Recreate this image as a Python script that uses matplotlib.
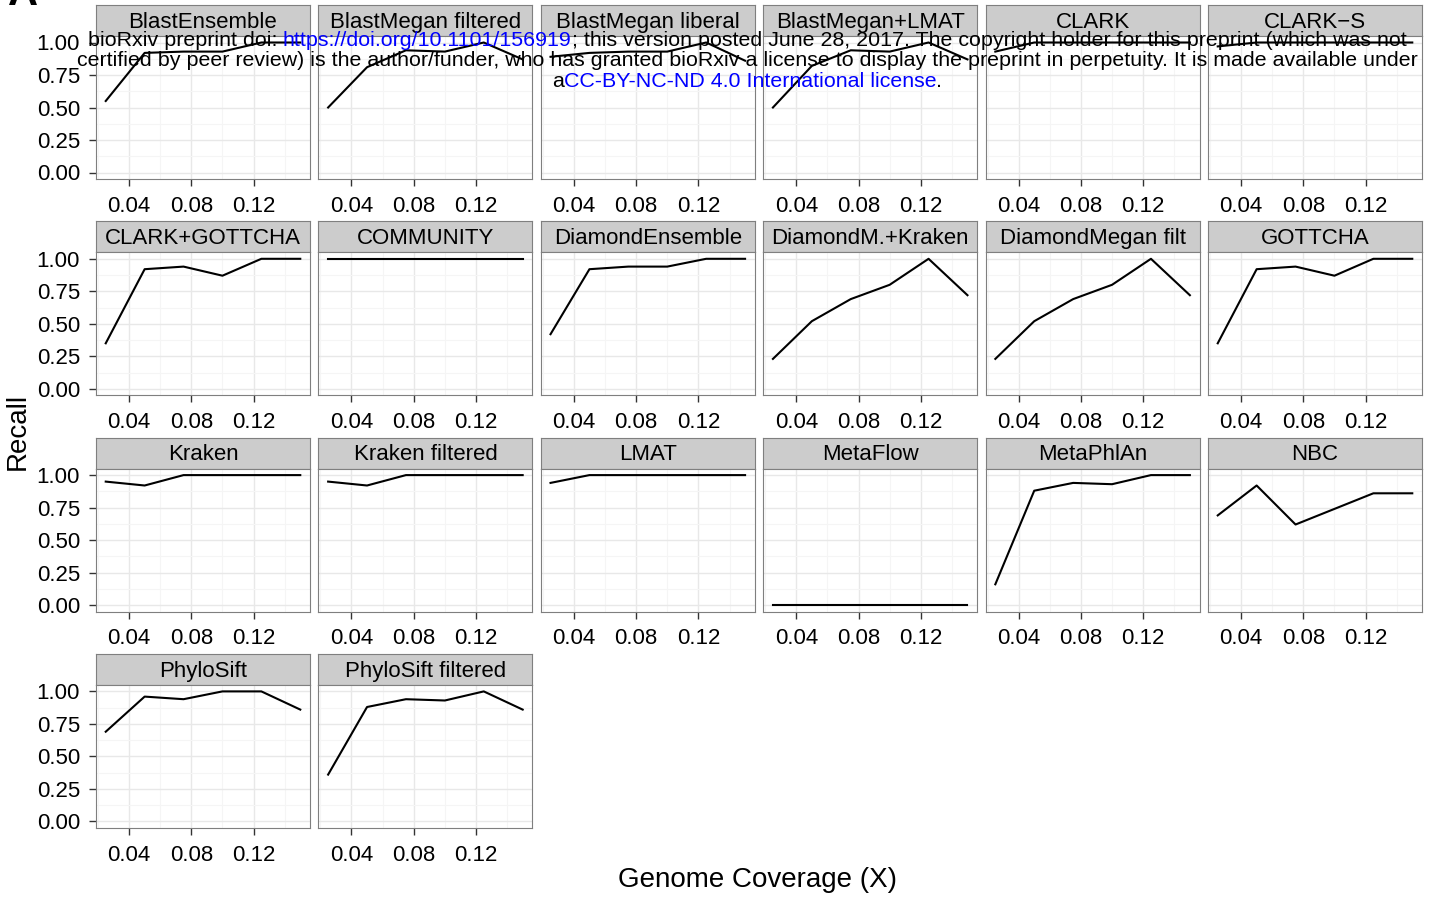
import matplotlib
matplotlib.use("Agg")
import matplotlib.pyplot as plt

plt.rcParams['font.family'] = ['Liberation Sans', 'DejaVu Sans']

# genome coverage levels (X) shared by every method
coverage = [0.025, 0.05, 0.075, 0.10, 0.125, 0.15]

methods = [
    "BlastEnsemble", "BlastMegan filtered", "BlastMegan liberal", "BlastMegan+LMAT",
    "CLARK", "CLARK\u2212S", "CLARK+GOTTCHA", "COMMUNITY", "DiamondEnsemble",
    "DiamondM.+Kraken", "DiamondMegan filt", "GOTTCHA", "Kraken", "Kraken filtered",
    "LMAT", "MetaFlow", "MetaPhlAn", "NBC", "PhyloSift", "PhyloSift filtered",
]

blast_ensemble = [0.55, 0.92, 0.93, 0.93, 1.00, 1.00]
blastmegan_filtered = [0.50, 0.81, 0.94, 0.93, 1.00, 0.87]
blastmegan_liberal = [0.89, 0.92, 0.93, 0.93, 1.00, 0.86]
blastmegan_lmat = [0.50, 0.82, 0.94, 0.93, 1.00, 0.87]
clark = [0.93, 1.00, 1.00, 1.00, 1.00, 1.00]
clark_s = [0.97, 1.00, 1.00, 1.00, 1.00, 1.00]
clark_gottcha = [0.35, 0.92, 0.94, 0.87, 1.00, 1.00]
community = [1.00, 1.00, 1.00, 1.00, 1.00, 1.00]
diamond_ensemble = [0.42, 0.92, 0.94, 0.94, 1.00, 1.00]
diamondm_kraken = [0.23, 0.52, 0.69, 0.80, 1.00, 0.72]
diamondmegan_filt = [0.23, 0.52, 0.69, 0.80, 1.00, 0.72]
gottcha = [0.35, 0.92, 0.94, 0.87, 1.00, 1.00]
kraken = [0.95, 0.92, 1.00, 1.00, 1.00, 1.00]
kraken_filtered = [0.95, 0.92, 1.00, 1.00, 1.00, 1.00]
lmat = [0.94, 1.00, 1.00, 1.00, 1.00, 1.00]
metaflow = [0.00, 0.00, 0.00, 0.00, 0.00, 0.00]
metaphlan = [0.16, 0.88, 0.94, 0.93, 1.00, 1.00]
nbc = [0.69, 0.92, 0.62, 0.74, 0.86, 0.86]
phylosift = [0.69, 0.96, 0.94, 1.00, 1.00, 0.86]
phylosift_filtered = [0.36, 0.88, 0.94, 0.93, 1.00, 0.86]

recall = [
    blast_ensemble, blastmegan_filtered, blastmegan_liberal, blastmegan_lmat,
    clark, clark_s, clark_gottcha, community, diamond_ensemble,
    diamondm_kraken, diamondmegan_filt, gottcha, kraken, kraken_filtered,
    lmat, metaflow, metaphlan, nbc, phylosift, phylosift_filtered,
]

x_ticks = [0.04, 0.08, 0.12]
x_tick_labels = ["0.04", "0.08", "0.12"]
y_ticks = [0.0, 0.25, 0.5, 0.75, 1.0]
y_tick_labels = ["0.00", "0.25", "0.50", "0.75", "1.00"]

W, H = 1436, 899
fig = plt.figure(figsize=(W / 100, H / 100), dpi=100)


def px_axes(left, top, width, height):
    return fig.add_axes([left / W, 1 - (top + height) / H, width / W, height / H])


border = "#7F7F7F"
ncol = 6
for i, (name, vals) in enumerate(zip(methods, recall)):
    r, c = divmod(i, ncol)
    left = 96 + c * 222.4
    strip_top = 5 + r * 216.3

    # grey facet strip
    sax = px_axes(left, strip_top, 214, 31)
    sax.set_facecolor("#CCCCCC")
    sax.set_xticks([])
    sax.set_yticks([])
    for sp in sax.spines.values():
        sp.set_color(border)
        sp.set_linewidth(0.8)
    sax.text(0.5, 0.44, name, ha="center", va="center", fontsize=16,
             transform=sax.transAxes)

    ax = px_axes(left, strip_top + 31, 214, 143)
    ax.plot(coverage, vals, color="black", lw=1.5, zorder=3)
    ax.set_xlim(0.01875, 0.15625)
    ax.set_ylim(-0.05, 1.05)
    ax.set_xticks(x_ticks)
    ax.set_xticklabels(x_tick_labels)
    ax.set_xticks([0.02, 0.06, 0.10, 0.14], minor=True)
    ax.set_yticks(y_ticks)
    ax.set_yticks([0.125, 0.375, 0.625, 0.875], minor=True)
    ax.set_yticklabels(y_tick_labels)
    ax.grid(which="major", color="#E8E8E8", lw=1.0)
    ax.grid(which="minor", color="#F5F5F5", lw=0.8)
    ax.set_axisbelow(True)
    ax.tick_params(which="major", direction="out", length=5, width=1.0,
                   color="#333333", labelsize=16)
    ax.tick_params(axis="x", which="major", pad=7)
    ax.tick_params(axis="y", which="major", pad=6.5)
    ax.tick_params(which="minor", length=0)
    if c != 0:
        ax.tick_params(axis="y", which="major", left=False, labelleft=False)
    for sp in ax.spines.values():
        sp.set_color(border)
        sp.set_linewidth(0.8)

fig.text(758 / W, 1 - 880 / H, "Genome Coverage (X)", ha="center", va="center",
         fontsize=20)
fig.text(18 / W, 1 - 431 / H, "Recall", ha="center", va="center",
         rotation=90, fontsize=20)
fig.text(8 / W, 1 - 5 / H, "A", ha="left", va="baseline", fontsize=30,
         fontweight="bold")

# preprint banner with coloured link segments
blue = "#0000FF"
banner = [
    (46, [("bioRxiv preprint doi: ", "black"),
          ("https://doi.org/10.1101/156919", blue),
          ("; this version posted June 28, 2017. The copyright holder for this preprint (which was not", "black")]),
    (66, [("certified by peer review) is the author/funder, who has granted bioRxiv a license to display the preprint in perpetuity. It is made available under", "black")]),
    (87, [("a", "black"),
          ("CC-BY-NC-ND 4.0 International license", blue),
          (".", "black")]),
]
renderer = fig.canvas.get_renderer()
banner_size = 15.4


def text_width(s):
    t = fig.text(0, 0, s + "|", fontsize=banner_size)
    bar = fig.text(0, 0, "|", fontsize=banner_size)
    w = t.get_window_extent(renderer).width - bar.get_window_extent(renderer).width
    t.remove()
    bar.remove()
    return w


center_x = 747
for baseline, segs in banner:
    full = "".join(s for s, _ in segs)
    x0 = center_x - text_width(full) / 2
    prefix = ""
    for s, col in segs:
        fig.text((x0 + text_width(prefix)) / W, 1 - baseline / H, s, color=col,
                 fontsize=banner_size, ha="left", va="baseline", zorder=10)
        prefix += s

fig.savefig("out.png", dpi=100)
